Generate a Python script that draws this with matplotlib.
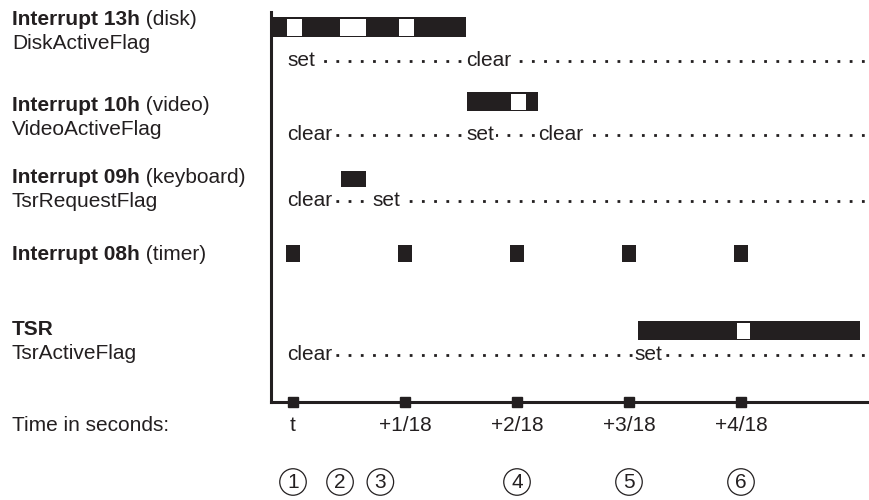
import matplotlib
matplotlib.use("Agg")
import matplotlib.pyplot as plt

plt.rcParams['font.family'] = ['Liberation Sans Narrow', 'Liberation Sans', 'DejaVu Sans']

INK = '#231f20'

# ---- data (time in units of 1/18 s after t) ----
tick_times = [0, 1, 2, 3, 4]
tick_labels = ['t', '+1/18', '+2/18', '+3/18', '+4/18']

disk_busy = [(-0.18, 1.545)]
disk_gaps = [(-0.05, 0.08), (0.42, 0.65), (0.95, 1.08)]
video_busy = [(1.55, 2.19)]
video_gaps = [(1.95, 2.08)]
kbd_busy = [(0.43, 0.65)]
timer_width = 0.13
tsr_busy = [(3.08, 5.06)]
tsr_gaps = [(3.96, 4.08)]

disk_flag = [(-0.054, 'set'), (1.55, 'clear')]
video_flag = [(-0.054, 'clear'), (1.55, 'set'), (2.19, 'clear')]
kbd_flag = [(-0.054, 'clear'), (0.705, 'set')]
tsr_flag = [(-0.054, 'clear'), (3.05, 'set')]

marker_times = [0, 0.42, 0.78, 2, 3, 4]
marker_labels = ['1', '2', '3', '4', '5', '6']

row_labels = [
    ('Interrupt 13h', ' (disk)', 'DiskActiveFlag', 25, 49),
    ('Interrupt 10h', ' (video)', 'VideoActiveFlag', 111, 135),
    ('Interrupt 09h', ' (keyboard)', 'TsrRequestFlag', 183, 207),
    ('Interrupt 08h', ' (timer)', None, 260, None),
    ('TSR', '', 'TsrActiveFlag', 335, 359),
]

# ---- figure ----
W, H = 869, 500
fig = plt.figure(figsize=(W / 100, H / 100), dpi=100)
ax = fig.add_axes([271 / W, 98 / H, (W - 271) / W, (402 - 12) / H])
x_lo = (271 - 293) / 112
x_hi = (869 - 293) / 112
ax.set_xlim(x_lo, x_hi)
ax.set_ylim(402, 12)
for s in ['top', 'right']:
    ax.spines[s].set_visible(False)
for s in ['left', 'bottom']:
    ax.spines[s].set_linewidth(2.2)
    ax.spines[s].set_color(INK)
ax.set_xticks([])
ax.set_yticks([])

FS = 15


def bar_row(busy, gaps, y0, y1):
    ax.broken_barh([(a, b - a) for a, b in busy], (y0, y1 - y0), facecolors=INK, edgecolors='none')
    if gaps:
        ax.broken_barh([(a, b - a) for a, b in gaps], (y0 + 1.8, y1 - y0 - 3.0),
                       facecolors='white', edgecolors='none')


bar_row(disk_busy, disk_gaps, 17, 37)
bar_row(video_busy, video_gaps, 92, 111)
bar_row(kbd_busy, None, 171, 187)
ax.broken_barh([(t - timer_width / 2, timer_width) for t in tick_times], (245, 17),
               facecolors=INK, edgecolors='none')
bar_row(tsr_busy, tsr_gaps, 321, 340)


def flag_row(flags, ydots):
    ax.plot([flags[0][0], x_hi - 0.02], [ydots, ydots], color=INK, lw=2.0,
            ls=(0, (1, 3.4)), zorder=1)
    for t, lab in flags:
        ax.text(t, ydots + 5, lab, fontsize=FS, color=INK, ha='left', va='baseline',
                bbox=dict(boxstyle='square,pad=0.08', fc='white', ec='none'), zorder=2)


flag_row(disk_flag, 61)
flag_row(video_flag, 135)
flag_row(kbd_flag, 201)
flag_row(tsr_flag, 355)

# tick marks on time axis
ax.plot(tick_times, [402] * len(tick_times), 's', color=INK, ms=6.5, clip_on=False, zorder=5)
for t, lab in zip(tick_times, tick_labels):
    ax.text(t, 431, lab, fontsize=FS, color=INK, ha='center', va='baseline')

for t, lab in zip(marker_times, marker_labels):
    ax.text(t, 482, lab, fontsize=FS, color=INK, ha='center', va='center',
            bbox=dict(boxstyle='circle,pad=0.18', fc='white', ec=INK, lw=0.9))

# left-hand labels
for bold, reg, sub, yb, ys in row_labels:
    tb = fig.text(12 / W, 1 - yb / H, bold, fontsize=FS, fontweight='bold', color=INK,
                  ha='left', va='baseline')
    if reg:
        ax.annotate(reg, xy=(1, 0), xycoords=tb, fontsize=FS, color=INK,
                    ha='left', va='bottom', annotation_clip=False)
    if sub:
        fig.text(12 / W, 1 - ys / H, sub, fontsize=FS, color=INK, ha='left', va='baseline')

fig.text(12 / W, 1 - 431 / H, 'Time in seconds:', fontsize=FS, color=INK, ha='left', va='baseline')

fig.savefig('out.png', dpi=100)
